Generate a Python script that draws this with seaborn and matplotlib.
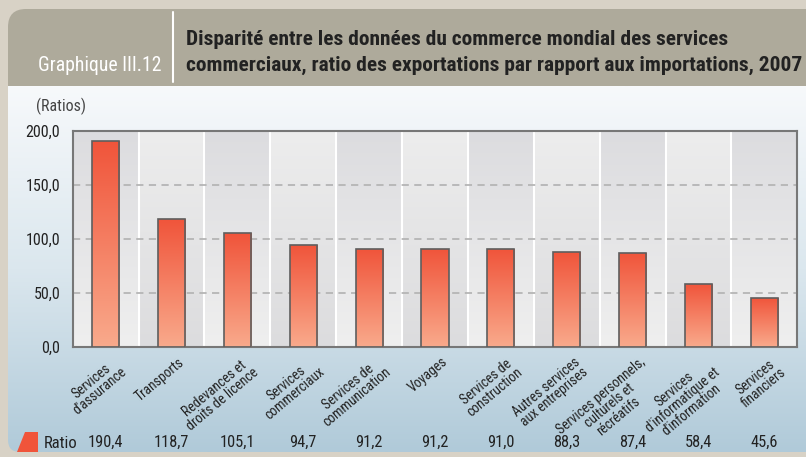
import numpy as np
import matplotlib
matplotlib.use("Agg")
import matplotlib.pyplot as plt
import seaborn as sns
from matplotlib import font_manager as fm
from matplotlib.colors import LinearSegmentedColormap
from matplotlib.patches import FancyBboxPatch, Polygon
import matplotlib.transforms as mtransforms

# --- Data ---
categories = ["Services\nd'assurance", "Transports", "Redevances et\ndroits de licence",
              "Services\ncommerciaux", "Services de\ncommunication", "Voyages",
              "Services de\nconstruction", "Autres services\naux entreprises",
              "Services personnels,\nculturels et\nrécréatifs",
              "Services\nd'informatique et\nd'information", "Services\nfinanciers"]
ratios = [190.4, 118.7, 105.1, 94.7, 91.2, 91.2, 91.0, 88.3, 87.4, 58.4, 45.6]
yticks = [0, 50, 100, 150, 200]
ytick_labels = ["0,0", "50,0", "100,0", "150,0", "200,0"]

sns.set_style("white")
installed = {f.name for f in fm.fontManager.ttflist}
narrow = next((n for n in ['Roboto Condensed', 'Archivo Narrow', 'PT Sans Narrow'] if n in installed),
              'DejaVu Sans')
plt.rcParams['font.family'] = [narrow, 'DejaVu Sans']

W, H = 806, 457
fig = plt.figure(figsize=(W / 100, H / 100), dpi=100)
fig.patch.set_facecolor('#d8d2c6')

# --- Background panels (pixel coordinates) ---
bg = fig.add_axes([0, 0, 1, 1])
bg.axis('off')

header = FancyBboxPatch((8, 9), 900, 120, boxstyle="round,pad=0,rounding_size=18",
                        facecolor='#aeaa9b', edgecolor='none', zorder=0)
bg.add_patch(header)

panel_cmap = LinearSegmentedColormap.from_list('panel', ['#f7f9fb', '#dbe7ee', '#b0cad9'])
panel_grad = np.linspace(0, 1, 256).reshape(-1, 1)
panel_img = bg.imshow(panel_grad, extent=[8, W, 452, 86], cmap=panel_cmap, aspect='auto', zorder=1)
panel_clip = FancyBboxPatch((8, 30), 900, 422, boxstyle="round,pad=0,rounding_size=12",
                            facecolor='none', edgecolor='none')
bg.add_patch(panel_clip)
panel_img.set_clip_path(panel_clip)
bg.set_xlim(0, W)
bg.set_ylim(H, 0)

bg.plot([172.5, 172.5], [12, 82], color='white', lw=1.5, zorder=2)
bg.text(161, 71, "Graphique III.12", color='white', fontsize=14.2, ha='right', va='baseline', zorder=3)
bg.text(186, 45, "Disparité entre les données du commerce mondial des services",
        color='#222222', fontsize=15.4, fontweight='bold', va='baseline', zorder=3)
bg.text(186, 71, "commerciaux, ratio des exportations par rapport aux importations, 2007",
        color='#222222', fontsize=15.4, fontweight='bold', va='baseline', zorder=3)
bg.text(36, 106, "(Ratios)", color='#444444', fontsize=11.5, va='center', zorder=3)

# legend row
bg.add_patch(Polygon([(17, 452), (25, 432), (38, 432), (38, 452)], closed=True,
                     facecolor='#f0543a', edgecolor='none', zorder=3))
bg.text(44, 443, "Ratio", color='#222222', fontsize=12, va='center', zorder=3)

# --- Main axes ---
ax = fig.add_axes([72.7 / W, 1 - 347.3 / H, (797.3 - 72.7) / W, (347.3 - 130.7) / H])
ax.patch.set_alpha(0)

sns.barplot(x=list(range(len(ratios))), y=ratios, ax=ax, width=0.41,
            color='#f0543a', edgecolor='#5e5e5e', linewidth=1.2, zorder=4)

# alternating gradient columns
col_grad = np.linspace(0, 1, 256).reshape(-1, 1)
for i in range(len(ratios)):
    if i % 2 == 0:
        cm = LinearSegmentedColormap.from_list('c0', ['#efefef', '#dcdcdf'])
    else:
        cm = LinearSegmentedColormap.from_list('c1', ['#dcdcde', '#ededed'])
    ax.imshow(col_grad, extent=[i - 0.5, i + 0.5, 0, 200], cmap=cm, origin='lower',
              aspect='auto', zorder=0)
    if i > 0:
        ax.axvline(i - 0.5, color='white', lw=1.5, zorder=1)

for g in [50, 100, 150]:
    ax.axhline(g, color='#b5b5b5', lw=1.3, ls=(0, (4, 3)), zorder=2)

# gradient fill for the bars
bar_cmap = LinearSegmentedColormap.from_list('bar', ['#f9aa8c', '#f0543a'])
bar_grad = np.linspace(0, 1, 256).reshape(-1, 1)
for p in ax.patches:
    x0, w, h = p.get_x(), p.get_width(), p.get_height()
    im = ax.imshow(bar_grad, extent=[x0, x0 + w, 0, h], cmap=bar_cmap, origin='lower',
                   aspect='auto', zorder=3)
    im.set_clip_path(p)
    p.set_facecolor('none')

ax.set_xlim(-0.5, len(ratios) - 0.5)
ax.set_ylim(0, 200)
ax.set_yticks(yticks)
ax.set_yticklabels(ytick_labels, fontsize=11.5, color='#222222')
ax.tick_params(axis='y', length=0, pad=9)
ax.set_xticks([])
ax.set_xlabel('')
for s in ax.spines.values():
    s.set_color('#777777')
    s.set_linewidth(1.5)

# rotated category labels and value row
trans = mtransforms.blended_transform_factory(ax.transData, ax.transAxes)
for i, (cat, val) in enumerate(zip(categories, ratios)):
    ax.text(i + 0.1, -0.035, cat, transform=trans, rotation=40, rotation_mode='anchor',
            ha='right', va='top', multialignment='center', fontsize=9.9, color='#222222',
            linespacing=0.92)
    ax.text(i, -0.44, f"{val:.1f}".replace('.', ','), transform=trans, ha='center',
            va='center', fontsize=11.8, color='#222222')

fig.savefig("out.png", dpi=100)
